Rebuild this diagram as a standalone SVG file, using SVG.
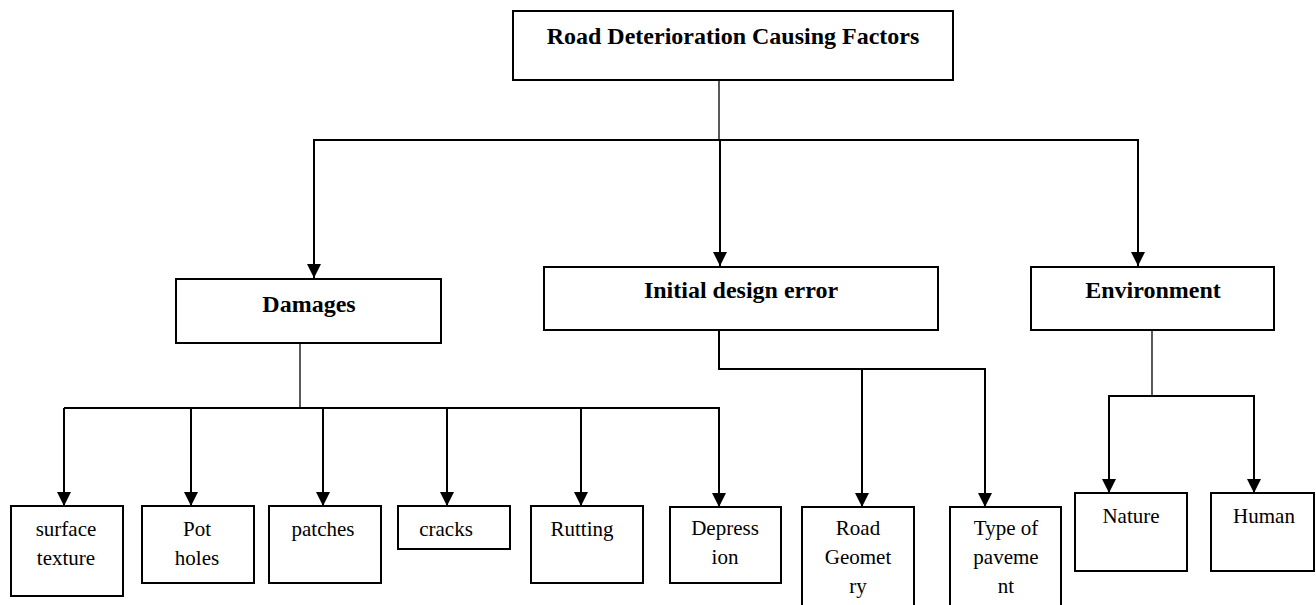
<svg xmlns="http://www.w3.org/2000/svg" width="1316" height="605" viewBox="0 0 1316 605">
<defs>
<marker id="arr" viewBox="0 0 14 14" markerWidth="14" markerHeight="14" refX="14" refY="7" orient="auto" markerUnits="userSpaceOnUse">
<path d="M0,0 L14,7 L0,14 Z" fill="#000"/>
</marker>
<style>
.box{fill:#fff;stroke:#000;stroke-width:2}
.hd{font-family:"Liberation Serif","Times New Roman",serif;font-size:24px;font-weight:bold;text-anchor:middle;fill:#000}
.lb{font-family:"Liberation Serif","Times New Roman",serif;font-size:21px;text-anchor:middle;fill:#000}
.c{fill:none;stroke:#000;stroke-width:2}
.t{fill:none;stroke:#000;stroke-width:1.3}
.a{fill:none;stroke:#000;stroke-width:2;marker-end:url(#arr)}
</style>
</defs>
<rect width="1316" height="605" fill="#fff"/>
<g id="connectors">
<line class="t" x1="719" y1="80" x2="719" y2="140"/>
<line class="c" x1="313" y1="140" x2="1139" y2="140"/>
<line class="a" x1="314" y1="140" x2="314" y2="278"/>
<line class="a" x1="720" y1="140" x2="720" y2="266"/>
<line class="a" x1="1138" y1="140" x2="1138" y2="266"/>
<line class="t" x1="300" y1="343" x2="300" y2="408"/>
<line class="c" x1="64" y1="408" x2="720" y2="408"/>
<line class="a" x1="64" y1="408" x2="64" y2="506"/>
<line class="a" x1="191" y1="408" x2="191" y2="506"/>
<line class="a" x1="323" y1="408" x2="323" y2="506"/>
<line class="a" x1="447" y1="408" x2="447" y2="506"/>
<line class="a" x1="581" y1="408" x2="581" y2="506"/>
<line class="a" x1="719" y1="408" x2="719" y2="507"/>
<line class="c" x1="719" y1="330" x2="719" y2="369"/>
<line class="c" x1="718" y1="369" x2="986" y2="369"/>
<line class="a" x1="862" y1="369" x2="862" y2="507"/>
<line class="a" x1="985" y1="369" x2="985" y2="507"/>
<line class="t" x1="1152" y1="330" x2="1152" y2="396"/>
<line class="c" x1="1108" y1="396" x2="1255" y2="396"/>
<line class="a" x1="1109" y1="396" x2="1109" y2="493"/>
<line class="a" x1="1254" y1="396" x2="1254" y2="493"/>
</g>
<g id="root"><rect class="box" x="513" y="11" width="440" height="69"/><text class="hd" x="733" y="44">Road Deterioration Causing Factors</text></g>
<g id="damages"><rect class="box" x="176" y="279" width="265" height="64"/><text class="hd" x="309" y="312">Damages</text></g>
<g id="initial"><rect class="box" x="544" y="267" width="394" height="63"/><text class="hd" x="741" y="298">Initial design error</text></g>
<g id="environment"><rect class="box" x="1031" y="267" width="243" height="63"/><text class="hd" x="1153" y="298">Environment</text></g>
<g id="surface"><rect class="box" x="11" y="506" width="112" height="90"/><text class="lb" x="66" y="536">surface</text><text class="lb" x="66" y="565">texture</text></g>
<g id="potholes"><rect class="box" x="142" y="506" width="112" height="77"/><text class="lb" x="197" y="536">Pot</text><text class="lb" x="197" y="565">holes</text></g>
<g id="patches"><rect class="box" x="269" y="506" width="112" height="77"/><text class="lb" x="323" y="536">patches</text></g>
<g id="cracks"><rect class="box" x="398" y="506" width="112" height="43"/><text class="lb" x="446" y="536">cracks</text></g>
<g id="rutting"><rect class="box" x="531" y="506" width="112" height="77"/><text class="lb" x="582" y="536">Rutting</text></g>
<g id="depression"><rect class="box" x="670" y="507" width="111" height="76"/><text class="lb" x="725" y="535">Depress</text><text class="lb" x="725" y="564">ion</text></g>
<g id="geometry"><rect class="box" x="802" y="507" width="112" height="110"/><text class="lb" x="858" y="535">Road</text><text class="lb" x="858" y="564">Geomet</text><text class="lb" x="858" y="593">ry</text></g>
<g id="pavement"><rect class="box" x="950" y="507" width="111" height="110"/><text class="lb" x="1006" y="535">Type of</text><text class="lb" x="1006" y="564">paveme</text><text class="lb" x="1006" y="593">nt</text></g>
<g id="nature"><rect class="box" x="1075" y="493" width="112" height="78"/><text class="lb" x="1131" y="523">Nature</text></g>
<g id="human"><rect class="box" x="1211" y="493" width="103" height="78"/><text class="lb" x="1264" y="523">Human</text></g>
</svg>
